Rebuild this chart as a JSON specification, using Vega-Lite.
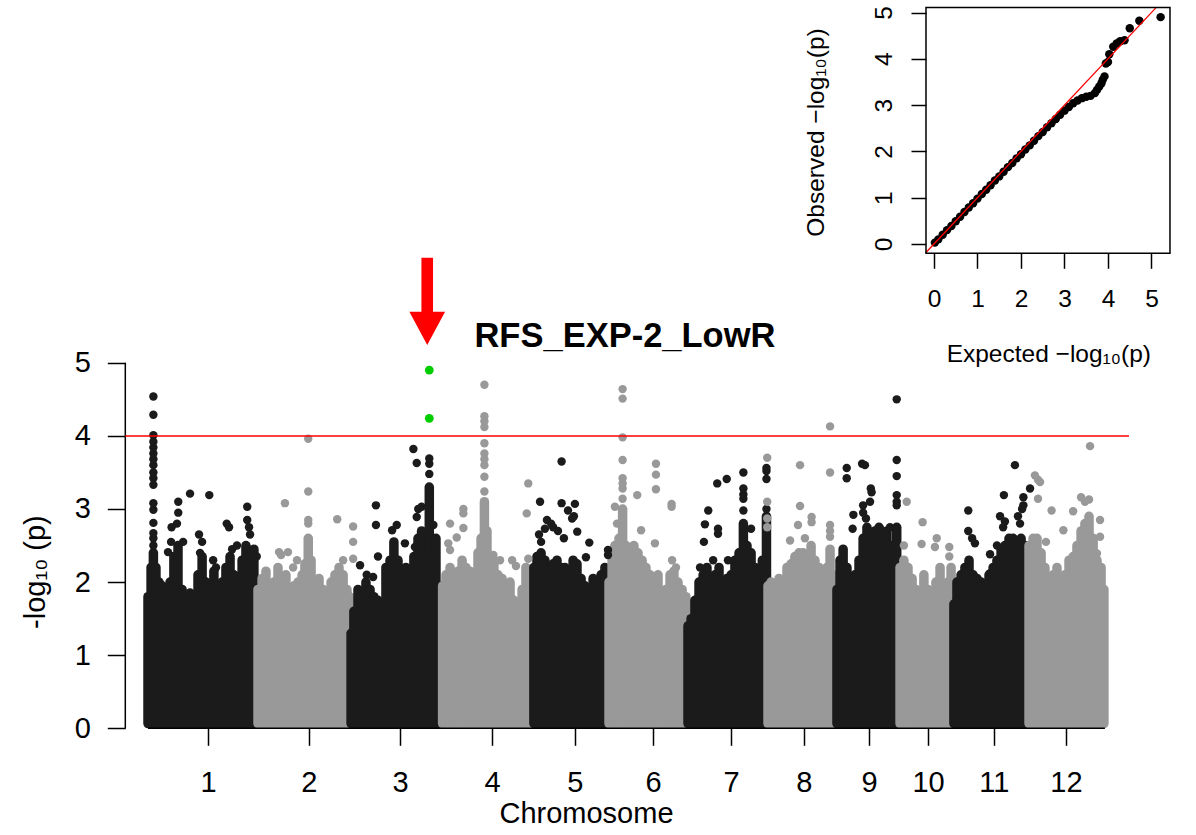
{
"$schema": "https://vega.github.io/schema/vega-lite/v6.json",
"usermeta": {"embedOptions": {"actions": false}},
"width": 1196, "height": 835, "autosize": {"type": "none"}, "padding": 0,
"config": {"view": {"stroke": null}, "font": "Liberation Sans, Arial, DejaVu Sans, sans-serif",
 "axis": {"grid": false, "domain": false, "labelColor": "#000", "titleColor": "#000", "tickColor": "#000", "tickWidth": 1.5, "labelFlush": false, "labelOverlap": false, "labelBound": false, "titleFontWeight": "normal", "labelFont": "Liberation Sans, Arial, DejaVu Sans, sans-serif", "titleFont": "Liberation Sans, Arial, DejaVu Sans, sans-serif"}},
"datasets": {
"cols": [
{"chr":1,"pos":0.0,"logp":1.8},{"chr":1,"pos":1.2,"logp":2.2},{"chr":1,"pos":2.1,"logp":2.4},{"chr":1,"pos":3.1,"logp":2.2},{"chr":1,"pos":4.3,"logp":2.0},{"chr":1,"pos":5.5,"logp":1.95},{"chr":1,"pos":7.0,"logp":1.9},{"chr":1,"pos":8.6,"logp":2.0},{"chr":1,"pos":10.1,"logp":2.35},{"chr":1,"pos":11.7,"logp":2.5},{"chr":1,"pos":13.3,"logp":1.9},{"chr":1,"pos":14.8,"logp":1.75},{"chr":1,"pos":16.4,"logp":1.85},{"chr":1,"pos":17.9,"logp":1.8},{"chr":1,"pos":19.5,"logp":2.1},{"chr":1,"pos":21.1,"logp":2.35},{"chr":1,"pos":22.6,"logp":2.0},{"chr":1,"pos":24.2,"logp":1.95},{"chr":1,"pos":25.7,"logp":2.15},{"chr":1,"pos":27.3,"logp":1.9},{"chr":1,"pos":28.9,"logp":2.0},{"chr":1,"pos":30.4,"logp":2.2},{"chr":1,"pos":32.0,"logp":2.35},{"chr":1,"pos":33.5,"logp":2.1},{"chr":1,"pos":35.1,"logp":2.0},{"chr":1,"pos":36.7,"logp":2.3},{"chr":1,"pos":38.2,"logp":2.5},{"chr":1,"pos":39.8,"logp":2.2},{"chr":1,"pos":41.3,"logp":2.45},{"chr":1,"pos":42.5,"logp":1.9},
{"chr":2,"pos":42.9,"logp":1.9},{"chr":2,"pos":44.5,"logp":2.05},{"chr":2,"pos":46.0,"logp":2.15},{"chr":2,"pos":47.6,"logp":1.9},{"chr":2,"pos":49.1,"logp":2.0},{"chr":2,"pos":50.7,"logp":2.2},{"chr":2,"pos":52.3,"logp":2.0},{"chr":2,"pos":53.8,"logp":2.1},{"chr":2,"pos":55.4,"logp":1.85},{"chr":2,"pos":56.9,"logp":1.95},{"chr":2,"pos":58.5,"logp":2.0},{"chr":2,"pos":60.1,"logp":2.1},{"chr":2,"pos":61.2,"logp":2.25},{"chr":2,"pos":62.5,"logp":2.6},{"chr":2,"pos":63.6,"logp":2.3},{"chr":2,"pos":65.1,"logp":2.0},{"chr":2,"pos":66.7,"logp":2.05},{"chr":2,"pos":68.3,"logp":1.9},{"chr":2,"pos":69.8,"logp":1.8},{"chr":2,"pos":71.4,"logp":2.0},{"chr":2,"pos":72.9,"logp":2.1},{"chr":2,"pos":74.5,"logp":2.2},{"chr":2,"pos":76.1,"logp":2.1},{"chr":2,"pos":77.6,"logp":1.9},{"chr":2,"pos":78.6,"logp":1.8},
{"chr":3,"pos":79.2,"logp":1.3},{"chr":3,"pos":80.3,"logp":1.6},{"chr":3,"pos":81.9,"logp":1.9},{"chr":3,"pos":83.5,"logp":1.7},{"chr":3,"pos":85.0,"logp":2.0},{"chr":3,"pos":86.6,"logp":1.9},{"chr":3,"pos":88.1,"logp":1.8},{"chr":3,"pos":89.7,"logp":1.75},{"chr":3,"pos":91.3,"logp":1.6},{"chr":3,"pos":92.8,"logp":2.2},{"chr":3,"pos":94.4,"logp":2.3},{"chr":3,"pos":95.9,"logp":2.55},{"chr":3,"pos":97.5,"logp":2.3},{"chr":3,"pos":99.1,"logp":1.9},{"chr":3,"pos":100.6,"logp":2.2},{"chr":3,"pos":102.2,"logp":2.0},{"chr":3,"pos":103.7,"logp":2.35},{"chr":3,"pos":105.3,"logp":2.6},{"chr":3,"pos":106.7,"logp":2.7},{"chr":3,"pos":108.0,"logp":2.4},{"chr":3,"pos":109.7,"logp":3.3},{"chr":3,"pos":110.8,"logp":2.4},{"chr":3,"pos":112.3,"logp":2.6},{"chr":3,"pos":113.9,"logp":1.95},{"chr":3,"pos":114.5,"logp":1.8},
{"chr":4,"pos":114.9,"logp":1.95},{"chr":4,"pos":116.2,"logp":2.1},{"chr":4,"pos":117.8,"logp":2.2},{"chr":4,"pos":119.3,"logp":2.0},{"chr":4,"pos":120.9,"logp":2.15},{"chr":4,"pos":122.5,"logp":2.3},{"chr":4,"pos":124.0,"logp":2.2},{"chr":4,"pos":125.6,"logp":2.15},{"chr":4,"pos":127.1,"logp":2.1},{"chr":4,"pos":128.7,"logp":2.4},{"chr":4,"pos":129.9,"logp":2.6},{"chr":4,"pos":131.2,"logp":3.1},{"chr":4,"pos":132.2,"logp":2.7},{"chr":4,"pos":133.4,"logp":2.3},{"chr":4,"pos":134.9,"logp":2.3},{"chr":4,"pos":136.5,"logp":2.1},{"chr":4,"pos":138.1,"logp":2.05},{"chr":4,"pos":139.6,"logp":1.9},{"chr":4,"pos":141.2,"logp":2.0},{"chr":4,"pos":142.7,"logp":1.75},{"chr":4,"pos":144.3,"logp":1.7},{"chr":4,"pos":145.9,"logp":1.9},{"chr":4,"pos":147.4,"logp":2.2},{"chr":4,"pos":149.0,"logp":2.0},{"chr":4,"pos":149.8,"logp":1.8},
{"chr":5,"pos":150.5,"logp":2.2},{"chr":5,"pos":151.7,"logp":2.35},{"chr":5,"pos":153.3,"logp":2.4},{"chr":5,"pos":154.8,"logp":2.3},{"chr":5,"pos":156.4,"logp":2.1},{"chr":5,"pos":158.0,"logp":2.25},{"chr":5,"pos":159.5,"logp":2.3},{"chr":5,"pos":161.1,"logp":2.2},{"chr":5,"pos":162.6,"logp":2.2},{"chr":5,"pos":164.2,"logp":2.1},{"chr":5,"pos":165.8,"logp":2.3},{"chr":5,"pos":167.3,"logp":2.25},{"chr":5,"pos":168.9,"logp":2.05},{"chr":5,"pos":170.4,"logp":1.95},{"chr":5,"pos":172.0,"logp":1.9},{"chr":5,"pos":173.6,"logp":2.05},{"chr":5,"pos":175.1,"logp":1.95},{"chr":5,"pos":176.7,"logp":2.1},{"chr":5,"pos":178.2,"logp":2.2},{"chr":5,"pos":179.2,"logp":1.9},
{"chr":6,"pos":179.8,"logp":2.0},{"chr":6,"pos":181.0,"logp":2.3},{"chr":6,"pos":182.1,"logp":2.5},{"chr":6,"pos":183.7,"logp":2.6},{"chr":6,"pos":185.1,"logp":3.0},{"chr":6,"pos":186.4,"logp":2.5},{"chr":6,"pos":188.0,"logp":2.4},{"chr":6,"pos":189.5,"logp":2.5},{"chr":6,"pos":191.1,"logp":2.4},{"chr":6,"pos":192.7,"logp":2.3},{"chr":6,"pos":194.2,"logp":2.2},{"chr":6,"pos":195.8,"logp":2.1},{"chr":6,"pos":197.3,"logp":2.0},{"chr":6,"pos":198.9,"logp":2.1},{"chr":6,"pos":200.5,"logp":1.85},{"chr":6,"pos":202.0,"logp":1.9},{"chr":6,"pos":203.6,"logp":2.1},{"chr":6,"pos":205.1,"logp":2.15},{"chr":6,"pos":206.7,"logp":2.0},{"chr":6,"pos":208.3,"logp":1.9},{"chr":6,"pos":209.8,"logp":1.8},
{"chr":7,"pos":210.6,"logp":1.4},{"chr":7,"pos":211.8,"logp":1.5},{"chr":7,"pos":213.3,"logp":1.75},{"chr":7,"pos":214.9,"logp":2.0},{"chr":7,"pos":216.5,"logp":2.1},{"chr":7,"pos":218.0,"logp":2.2},{"chr":7,"pos":219.6,"logp":2.0},{"chr":7,"pos":221.1,"logp":2.1},{"chr":7,"pos":222.7,"logp":2.2},{"chr":7,"pos":224.3,"logp":2.0},{"chr":7,"pos":225.8,"logp":2.05},{"chr":7,"pos":227.4,"logp":2.1},{"chr":7,"pos":228.9,"logp":2.3},{"chr":7,"pos":230.5,"logp":2.4},{"chr":7,"pos":232.2,"logp":2.8},{"chr":7,"pos":233.6,"logp":2.5},{"chr":7,"pos":235.2,"logp":2.4},{"chr":7,"pos":236.7,"logp":2.2},{"chr":7,"pos":238.3,"logp":2.1},{"chr":7,"pos":239.6,"logp":2.3},{"chr":7,"pos":241.2,"logp":2.9},
{"chr":8,"pos":241.8,"logp":1.95},{"chr":8,"pos":243.0,"logp":2.0},{"chr":8,"pos":244.5,"logp":1.9},{"chr":8,"pos":246.1,"logp":2.05},{"chr":8,"pos":247.7,"logp":1.95},{"chr":8,"pos":249.2,"logp":2.2},{"chr":8,"pos":250.8,"logp":2.25},{"chr":8,"pos":252.3,"logp":2.35},{"chr":8,"pos":253.9,"logp":2.4},{"chr":8,"pos":255.5,"logp":2.4},{"chr":8,"pos":257.0,"logp":2.3},{"chr":8,"pos":258.6,"logp":2.5},{"chr":8,"pos":260.1,"logp":2.3},{"chr":8,"pos":261.7,"logp":2.2},{"chr":8,"pos":263.3,"logp":2.1},{"chr":8,"pos":264.8,"logp":2.2},{"chr":8,"pos":266.0,"logp":2.45},{"chr":8,"pos":267.2,"logp":2.1},{"chr":8,"pos":267.9,"logp":1.9},
{"chr":9,"pos":268.7,"logp":1.9},{"chr":9,"pos":269.9,"logp":2.3},{"chr":9,"pos":271.1,"logp":2.45},{"chr":9,"pos":272.6,"logp":2.2},{"chr":9,"pos":274.2,"logp":2.0},{"chr":9,"pos":275.7,"logp":2.1},{"chr":9,"pos":277.3,"logp":2.3},{"chr":9,"pos":278.9,"logp":2.6},{"chr":9,"pos":280.4,"logp":2.75},{"chr":9,"pos":282.0,"logp":2.6},{"chr":9,"pos":283.5,"logp":2.7},{"chr":9,"pos":285.1,"logp":2.75},{"chr":9,"pos":286.7,"logp":2.6},{"chr":9,"pos":288.2,"logp":2.7},{"chr":9,"pos":289.4,"logp":2.5},{"chr":9,"pos":290.6,"logp":2.3},{"chr":9,"pos":292.0,"logp":2.75},
{"chr":10,"pos":293.3,"logp":2.2},{"chr":10,"pos":294.8,"logp":2.3},{"chr":10,"pos":296.4,"logp":2.2},{"chr":10,"pos":298.0,"logp":2.05},{"chr":10,"pos":299.5,"logp":1.9},{"chr":10,"pos":301.1,"logp":1.75},{"chr":10,"pos":302.6,"logp":2.1},{"chr":10,"pos":304.2,"logp":1.9},{"chr":10,"pos":305.8,"logp":1.85},{"chr":10,"pos":307.3,"logp":2.0},{"chr":10,"pos":308.9,"logp":2.2},{"chr":10,"pos":310.4,"logp":1.85},{"chr":10,"pos":312.0,"logp":2.0},{"chr":10,"pos":313.2,"logp":2.2},
{"chr":11,"pos":314.3,"logp":1.7},{"chr":11,"pos":315.5,"logp":2.0},{"chr":11,"pos":317.1,"logp":2.1},{"chr":11,"pos":318.6,"logp":2.2},{"chr":11,"pos":320.2,"logp":2.3},{"chr":11,"pos":321.8,"logp":2.1},{"chr":11,"pos":323.3,"logp":2.05},{"chr":11,"pos":324.9,"logp":2.0},{"chr":11,"pos":326.4,"logp":1.95},{"chr":11,"pos":328.0,"logp":2.1},{"chr":11,"pos":329.6,"logp":2.2},{"chr":11,"pos":331.1,"logp":2.3},{"chr":11,"pos":332.7,"logp":2.45},{"chr":11,"pos":334.2,"logp":2.5},{"chr":11,"pos":335.8,"logp":2.6},{"chr":11,"pos":337.4,"logp":2.6},{"chr":11,"pos":338.9,"logp":2.45},{"chr":11,"pos":340.5,"logp":2.6},{"chr":11,"pos":342.0,"logp":2.5},{"chr":11,"pos":342.8,"logp":2.3},
{"chr":12,"pos":343.6,"logp":2.5},{"chr":12,"pos":345.2,"logp":2.6},{"chr":12,"pos":346.7,"logp":2.6},{"chr":12,"pos":348.3,"logp":2.4},{"chr":12,"pos":349.8,"logp":2.2},{"chr":12,"pos":351.4,"logp":2.0},{"chr":12,"pos":353.0,"logp":2.1},{"chr":12,"pos":354.5,"logp":2.2},{"chr":12,"pos":356.1,"logp":2.0},{"chr":12,"pos":357.6,"logp":2.1},{"chr":12,"pos":359.2,"logp":2.3},{"chr":12,"pos":360.8,"logp":2.35},{"chr":12,"pos":362.3,"logp":2.5},{"chr":12,"pos":363.9,"logp":2.7},{"chr":12,"pos":365.4,"logp":2.8},{"chr":12,"pos":367.0,"logp":2.9},{"chr":12,"pos":368.6,"logp":2.6},{"chr":12,"pos":370.1,"logp":2.3},{"chr":12,"pos":371.7,"logp":2.2},{"chr":12,"pos":372.8,"logp":1.9}
],
"pts": [
{"chr":1,"pos":2.1,"logp":2.5},{"chr":1,"pos":2.1,"logp":2.6},{"chr":1,"pos":2.1,"logp":2.67},{"chr":1,"pos":2.1,"logp":2.81},{"chr":1,"pos":2.1,"logp":2.99},{"chr":1,"pos":2.1,"logp":3.08},{"chr":1,"pos":2.1,"logp":3.33},{"chr":1,"pos":2.1,"logp":3.42},{"chr":1,"pos":2.1,"logp":3.5},{"chr":1,"pos":2.1,"logp":3.6},{"chr":1,"pos":2.1,"logp":3.68},{"chr":1,"pos":2.1,"logp":3.76},{"chr":1,"pos":2.1,"logp":3.84},{"chr":1,"pos":2.1,"logp":3.92},{"chr":1,"pos":2.1,"logp":4.01},{"chr":1,"pos":2.1,"logp":4.29},{"chr":1,"pos":2.1,"logp":4.54},
{"chr":1,"pos":7.8,"logp":2.41},{"chr":1,"pos":9.0,"logp":2.55},{"chr":1,"pos":9.2,"logp":2.75},{"chr":1,"pos":11.3,"logp":2.8},{"chr":1,"pos":11.8,"logp":2.95},{"chr":1,"pos":11.8,"logp":3.1},{"chr":1,"pos":13.7,"logp":2.55},{"chr":1,"pos":16.4,"logp":3.21},{"chr":1,"pos":19.9,"logp":2.65},{"chr":1,"pos":21.1,"logp":2.55},{"chr":1,"pos":20.3,"logp":2.4},{"chr":1,"pos":23.9,"logp":3.19},{"chr":1,"pos":25.4,"logp":2.3},{"chr":1,"pos":26.5,"logp":2.2},{"chr":1,"pos":30.7,"logp":2.8},{"chr":1,"pos":31.6,"logp":2.75},{"chr":1,"pos":32.8,"logp":2.45},{"chr":1,"pos":34.7,"logp":2.5},{"chr":1,"pos":38.7,"logp":3.03},{"chr":1,"pos":38.7,"logp":2.85},{"chr":1,"pos":39.4,"logp":2.75},{"chr":1,"pos":39.8,"logp":2.65},{"chr":1,"pos":42.4,"logp":2.35},
{"chr":2,"pos":62.5,"logp":3.96},{"chr":2,"pos":62.5,"logp":3.24},{"chr":2,"pos":62.5,"logp":2.85},{"chr":2,"pos":62.5,"logp":2.8},{"chr":2,"pos":53.4,"logp":3.08},{"chr":2,"pos":51.1,"logp":2.41},{"chr":2,"pos":54.6,"logp":2.41},{"chr":2,"pos":51.9,"logp":2.37},{"chr":2,"pos":73.8,"logp":2.86},{"chr":2,"pos":80.0,"logp":2.76},{"chr":2,"pos":80.0,"logp":2.55},{"chr":2,"pos":80.0,"logp":2.32},{"chr":2,"pos":76.1,"logp":2.3},{"chr":2,"pos":58.1,"logp":2.3},{"chr":2,"pos":56.6,"logp":2.2},
{"chr":3,"pos":88.9,"logp":3.05},{"chr":3,"pos":88.9,"logp":2.78},{"chr":3,"pos":89.7,"logp":2.35},{"chr":3,"pos":97.0,"logp":2.78},{"chr":3,"pos":95.2,"logp":2.71},{"chr":3,"pos":100.2,"logp":2.53},{"chr":3,"pos":103.5,"logp":3.82},{"chr":3,"pos":104.8,"logp":3.63},{"chr":3,"pos":104.8,"logp":2.89},{"chr":3,"pos":105.4,"logp":3.0},{"chr":3,"pos":104.1,"logp":2.48},{"chr":3,"pos":106.7,"logp":3.03},{"chr":3,"pos":109.7,"logp":3.48},{"chr":3,"pos":109.7,"logp":3.62},{"chr":3,"pos":109.7,"logp":3.69},{"chr":3,"pos":111.3,"logp":2.78},{"chr":3,"pos":82.7,"logp":2.23},{"chr":3,"pos":85.3,"logp":2.1},{"chr":3,"pos":87.8,"logp":2.07},
{"chr":4,"pos":131.2,"logp":3.24},{"chr":4,"pos":131.2,"logp":3.44},{"chr":4,"pos":131.2,"logp":3.6},{"chr":4,"pos":131.2,"logp":3.68},{"chr":4,"pos":131.2,"logp":3.76},{"chr":4,"pos":131.2,"logp":3.9},{"chr":4,"pos":131.2,"logp":4.12},{"chr":4,"pos":131.2,"logp":4.2},{"chr":4,"pos":131.2,"logp":4.27},{"chr":4,"pos":131.2,"logp":4.7},{"chr":4,"pos":148.3,"logp":3.35},{"chr":4,"pos":148.3,"logp":2.32},{"chr":4,"pos":147.7,"logp":2.94},{"chr":4,"pos":123.0,"logp":3.0},{"chr":4,"pos":123.0,"logp":2.94},{"chr":4,"pos":123.0,"logp":2.74},{"chr":4,"pos":117.8,"logp":2.8},{"chr":4,"pos":117.1,"logp":2.53},{"chr":4,"pos":117.8,"logp":2.44},{"chr":4,"pos":120.4,"logp":2.61},{"chr":4,"pos":134.7,"logp":2.37},{"chr":4,"pos":137.3,"logp":2.3},{"chr":4,"pos":142.0,"logp":2.3},{"chr":4,"pos":143.5,"logp":2.22},
{"chr":5,"pos":161.3,"logp":3.65},{"chr":5,"pos":161.3,"logp":3.08},{"chr":5,"pos":152.9,"logp":3.1},{"chr":5,"pos":166.5,"logp":3.07},{"chr":5,"pos":163.8,"logp":2.98},{"chr":5,"pos":166.1,"logp":2.9},{"chr":5,"pos":165.4,"logp":2.87},{"chr":5,"pos":155.6,"logp":2.85},{"chr":5,"pos":157.2,"logp":2.8},{"chr":5,"pos":158.0,"logp":2.75},{"chr":5,"pos":154.8,"logp":2.73},{"chr":5,"pos":159.9,"logp":2.7},{"chr":5,"pos":162.2,"logp":2.6},{"chr":5,"pos":167.4,"logp":2.69},{"chr":5,"pos":172.1,"logp":2.54},{"chr":5,"pos":170.8,"logp":2.34},{"chr":5,"pos":179.4,"logp":2.44},{"chr":5,"pos":179.4,"logp":2.37},{"chr":5,"pos":152.5,"logp":2.65},{"chr":5,"pos":153.3,"logp":2.55},
{"chr":6,"pos":185.1,"logp":3.14},{"chr":6,"pos":185.1,"logp":3.28},{"chr":6,"pos":185.1,"logp":3.35},{"chr":6,"pos":185.1,"logp":3.42},{"chr":6,"pos":185.1,"logp":3.67},{"chr":6,"pos":185.1,"logp":3.98},{"chr":6,"pos":185.1,"logp":4.51},{"chr":6,"pos":185.1,"logp":4.64},{"chr":6,"pos":190.8,"logp":3.19},{"chr":6,"pos":198.1,"logp":3.62},{"chr":6,"pos":198.1,"logp":3.47},{"chr":6,"pos":198.1,"logp":3.27},{"chr":6,"pos":204.2,"logp":3.07},{"chr":6,"pos":204.2,"logp":3.03},{"chr":6,"pos":192.3,"logp":2.71},{"chr":6,"pos":197.7,"logp":2.53},{"chr":6,"pos":182.1,"logp":3.03},{"chr":6,"pos":182.9,"logp":2.8},{"chr":6,"pos":204.4,"logp":2.3},{"chr":6,"pos":205.9,"logp":2.2},
{"chr":7,"pos":218.5,"logp":2.98},{"chr":7,"pos":217.2,"logp":2.79},{"chr":7,"pos":216.8,"logp":2.55},{"chr":7,"pos":222.0,"logp":3.35},{"chr":7,"pos":225.7,"logp":3.41},{"chr":7,"pos":222.3,"logp":2.73},{"chr":7,"pos":222.3,"logp":2.66},{"chr":7,"pos":232.2,"logp":3.5},{"chr":7,"pos":232.2,"logp":3.28},{"chr":7,"pos":232.2,"logp":3.2},{"chr":7,"pos":232.2,"logp":3.14},{"chr":7,"pos":232.2,"logp":2.98},{"chr":7,"pos":235.2,"logp":2.73},{"chr":7,"pos":241.2,"logp":3.41},{"chr":7,"pos":241.2,"logp":3.52},{"chr":7,"pos":241.2,"logp":3.56},{"chr":7,"pos":241.2,"logp":3.0},{"chr":7,"pos":215.3,"logp":2.2},{"chr":7,"pos":220.4,"logp":2.3},{"chr":7,"pos":226.2,"logp":2.3},
{"chr":8,"pos":241.5,"logp":3.7},{"chr":8,"pos":241.5,"logp":3.1},{"chr":8,"pos":241.5,"logp":2.87},{"chr":8,"pos":241.5,"logp":2.75},{"chr":8,"pos":254.3,"logp":3.6},{"chr":8,"pos":254.3,"logp":3.04},{"chr":8,"pos":258.8,"logp":2.89},{"chr":8,"pos":258.8,"logp":2.82},{"chr":8,"pos":266.0,"logp":4.13},{"chr":8,"pos":266.0,"logp":3.5},{"chr":8,"pos":266.0,"logp":2.78},{"chr":8,"pos":266.0,"logp":2.7},{"chr":8,"pos":266.0,"logp":2.62},{"chr":8,"pos":253.5,"logp":2.78},{"chr":8,"pos":250.4,"logp":2.57},{"chr":8,"pos":256.2,"logp":2.6},
{"chr":9,"pos":292.0,"logp":4.5},{"chr":9,"pos":292.0,"logp":3.67},{"chr":9,"pos":292.0,"logp":3.45},{"chr":9,"pos":292.0,"logp":3.19},{"chr":9,"pos":292.0,"logp":3.1},{"chr":9,"pos":292.0,"logp":3.05},{"chr":9,"pos":272.5,"logp":3.56},{"chr":9,"pos":272.5,"logp":3.42},{"chr":9,"pos":278.5,"logp":3.62},{"chr":9,"pos":279.6,"logp":3.6},{"chr":9,"pos":281.9,"logp":3.28},{"chr":9,"pos":282.2,"logp":3.23},{"chr":9,"pos":281.6,"logp":3.1},{"chr":9,"pos":275.1,"logp":2.92},{"chr":9,"pos":274.8,"logp":2.73},{"chr":9,"pos":278.9,"logp":3.05},{"chr":9,"pos":278.9,"logp":2.95},{"chr":9,"pos":280.0,"logp":2.87},{"chr":9,"pos":289.4,"logp":2.75},{"chr":9,"pos":285.5,"logp":2.73},
{"chr":10,"pos":295.9,"logp":3.1},{"chr":10,"pos":302.1,"logp":2.82},{"chr":10,"pos":301.7,"logp":2.52},{"chr":10,"pos":307.6,"logp":2.6},{"chr":10,"pos":306.9,"logp":2.48},{"chr":10,"pos":312.5,"logp":2.48},{"chr":10,"pos":312.5,"logp":2.35},{"chr":10,"pos":294.8,"logp":2.5},
{"chr":11,"pos":319.9,"logp":2.98},{"chr":11,"pos":319.9,"logp":2.7},{"chr":11,"pos":321.4,"logp":2.6},{"chr":11,"pos":322.5,"logp":2.53},{"chr":11,"pos":338.1,"logp":3.6},{"chr":11,"pos":333.8,"logp":3.19},{"chr":11,"pos":341.4,"logp":3.16},{"chr":11,"pos":341.4,"logp":3.05},{"chr":11,"pos":340.9,"logp":3.0},{"chr":11,"pos":344.0,"logp":3.28},{"chr":11,"pos":339.3,"logp":2.9},{"chr":11,"pos":340.1,"logp":2.8},{"chr":11,"pos":332.3,"logp":2.9},{"chr":11,"pos":334.2,"logp":2.83},{"chr":11,"pos":333.5,"logp":2.75},{"chr":11,"pos":328.4,"logp":2.38},{"chr":11,"pos":328.4,"logp":2.12},{"chr":11,"pos":331.1,"logp":2.5},
{"chr":12,"pos":367.4,"logp":3.86},{"chr":12,"pos":345.9,"logp":3.46},{"chr":12,"pos":347.1,"logp":3.4},{"chr":12,"pos":347.9,"logp":3.37},{"chr":12,"pos":347.1,"logp":3.14},{"chr":12,"pos":363.9,"logp":3.16},{"chr":12,"pos":365.4,"logp":3.1},{"chr":12,"pos":367.0,"logp":3.13},{"chr":12,"pos":360.8,"logp":2.97},{"chr":12,"pos":352.4,"logp":2.98},{"chr":12,"pos":357.0,"logp":2.71},{"chr":12,"pos":371.3,"logp":2.85},{"chr":12,"pos":371.3,"logp":2.62},{"chr":12,"pos":370.1,"logp":2.39},{"chr":12,"pos":350.2,"logp":2.55}
],
"green": [{"chr":3,"pos":109.7,"logp":4.9},{"chr":3,"pos":109.7,"logp":4.24}],
"qq": [
{"expected":0.02,"observed":0.03},{"expected":0.1,"observed":0.1},{"expected":0.2,"observed":0.2},{"expected":0.3,"observed":0.3},{"expected":0.4,"observed":0.39},{"expected":0.5,"observed":0.49},{"expected":0.6,"observed":0.59},{"expected":0.7,"observed":0.69},{"expected":0.8,"observed":0.79},{"expected":0.9,"observed":0.88},{"expected":1.0,"observed":0.98},{"expected":1.1,"observed":1.08},{"expected":1.2,"observed":1.17},{"expected":1.3,"observed":1.27},{"expected":1.4,"observed":1.37},{"expected":1.5,"observed":1.46},{"expected":1.6,"observed":1.56},{"expected":1.7,"observed":1.66},{"expected":1.8,"observed":1.75},{"expected":1.9,"observed":1.85},{"expected":2.0,"observed":1.94},{"expected":2.1,"observed":2.04},{"expected":2.2,"observed":2.13},{"expected":2.3,"observed":2.23},{"expected":2.4,"observed":2.33},{"expected":2.5,"observed":2.42},{"expected":2.6,"observed":2.52},{"expected":2.7,"observed":2.61},{"expected":2.8,"observed":2.7},{"expected":2.9,"observed":2.79},{"expected":3.0,"observed":2.88},{"expected":3.1,"observed":2.96},{"expected":3.2,"observed":3.04},{"expected":3.3,"observed":3.1},{"expected":3.4,"observed":3.15},{"expected":3.5,"observed":3.18},{"expected":3.6,"observed":3.2},{"expected":3.7,"observed":3.26},{"expected":3.75,"observed":3.33},{"expected":3.8,"observed":3.4},{"expected":3.85,"observed":3.47},{"expected":3.88,"observed":3.55},{"expected":3.92,"observed":3.62},{"expected":3.95,"observed":3.9},{"expected":4.0,"observed":3.93},{"expected":4.03,"observed":4.1},{"expected":4.12,"observed":4.26},{"expected":4.2,"observed":4.33},{"expected":4.28,"observed":4.38},{"expected":4.38,"observed":4.4},{"expected":4.5,"observed":4.66},{"expected":4.72,"observed":4.82},{"expected":5.21,"observed":4.9}
]
},
"resolve": {"scale": {"x": "independent", "y": "independent"}, "axis": {"x": "independent", "y": "independent"}},
"layer": [
{"data": {"name": "cols"}, "mark": {"type": "rule", "strokeWidth": 9.5, "strokeCap": "round"},
 "encoding": {
  "x": {"field": "pos", "type": "quantitative", "scale": {"domain": [-57.72, 408.72], "nice": false, "zero": false},
   "axis": {"orient": "bottom", "offset": -106.7, "values": [23.4, 62.7, 98.3, 134.2, 166.5, 197, 227.4, 255.8, 281.2, 304.2, 329.9, 358], "labelExpr": "indexof([23.4, 62.7, 98.3, 134.2, 166.5, 197, 227.4, 255.8, 281.2, 304.2, 329.9, 358], datum.value) + 1", "tickSize": 17, "labelFontSize": 29, "labelPadding": 45.7, "labelBaseline": "alphabetic", "labelAlign": "center", "title": "Chromosome", "titleFontSize": 29, "titleX": 586, "titleY": 94.3, "titleBaseline": "alphabetic", "titleAlign": "center", "titleAngle": 0}},
  "y": {"field": "logp", "type": "quantitative", "scale": {"domain": [-1.4597, 9.963], "nice": false, "zero": false},
   "axis": {"orient": "left", "offset": -125.3, "values": [0, 1, 2, 3, 4, 5], "format": "d", "tickSize": 18, "labelFontSize": 29, "labelPadding": 17, "labelAlign": "right", "labelBaseline": "middle", "title": "-log₁₀ (p)", "titleFontSize": 29, "titleX": -81.3, "titleY": 571.6, "titleAngle": 270, "titleBaseline": "alphabetic", "titleAlign": "center"}},
  "y2": {"datum": 0.065},
  "color": {"field": "chr", "type": "nominal", "scale": {"domain": [1,2,3,4,5,6,7,8,9,10,11,12], "range": ["#1b1b1b","#999999","#1b1b1b","#999999","#1b1b1b","#999999","#1b1b1b","#999999","#1b1b1b","#999999","#1b1b1b","#999999"]}, "legend": null}
 }},
{"data": {"name": "pts"}, "mark": {"type": "circle", "size": 71, "opacity": 1},
 "encoding": {
  "x": {"field": "pos", "type": "quantitative", "scale": {"domain": [-57.72, 408.72], "nice": false, "zero": false}, "axis": null},
  "y": {"field": "logp", "type": "quantitative", "scale": {"domain": [-1.4597, 9.963], "nice": false, "zero": false}, "axis": null},
  "color": {"field": "chr", "type": "nominal", "scale": {"domain": [1,2,3,4,5,6,7,8,9,10,11,12], "range": ["#1b1b1b","#999999","#1b1b1b","#999999","#1b1b1b","#999999","#1b1b1b","#999999","#1b1b1b","#999999","#1b1b1b","#999999"]}, "legend": null}
 }},
{"data": {"values": [{}]}, "mark": {"type": "rule", "strokeWidth": 1.5, "color": "#000"},
 "encoding": {
  "x": {"datum": 0, "type": "quantitative", "scale": {"domain": [-57.72, 408.72], "nice": false, "zero": false}, "axis": null},
  "x2": {"datum": 373.2},
  "y": {"datum": 0, "type": "quantitative", "scale": {"domain": [-1.4597, 9.963], "nice": false, "zero": false}, "axis": null}
 }},
{"data": {"values": [{}]}, "mark": {"type": "rule", "strokeWidth": 1.5, "color": "#000"},
 "encoding": {
  "x": {"datum": -8.85, "type": "quantitative", "scale": {"domain": [-57.72, 408.72], "nice": false, "zero": false}, "axis": null},
  "y": {"datum": 0, "type": "quantitative", "scale": {"domain": [-1.4597, 9.963], "nice": false, "zero": false}, "axis": null},
  "y2": {"datum": 5}
 }},
{"data": {"values": [{}]}, "mark": {"type": "rule", "strokeWidth": 1.5, "color": "#ff0000"},
 "encoding": {
  "x": {"datum": -8.85, "type": "quantitative", "scale": {"domain": [-57.72, 408.72], "nice": false, "zero": false}, "axis": null},
  "x2": {"datum": 382.6},
  "y": {"datum": 4, "type": "quantitative", "scale": {"domain": [-1.4597, 9.963], "nice": false, "zero": false}, "axis": null}
 }},
{"data": {"name": "green"}, "mark": {"type": "circle", "size": 78, "opacity": 1, "color": "#00cd00"},
 "encoding": {
  "x": {"field": "pos", "type": "quantitative", "scale": {"domain": [-57.72, 408.72], "nice": false, "zero": false}, "axis": null},
  "y": {"field": "logp", "type": "quantitative", "scale": {"domain": [-1.4597, 9.963], "nice": false, "zero": false}, "axis": null}
 }},
{"data": {"values": [{}]}, "mark": {"type": "point", "filled": true, "opacity": 1, "color": "#ff0000", "strokeWidth": 0, "size": 7621, "shape": "M-0.133,-1L0.133,-1L0.133,0.237L0.409,0.237L0,1L-0.409,0.237L-0.133,0.237Z"},
 "encoding": {
  "x": {"datum": 108.9, "type": "quantitative", "scale": {"domain": [-57.72, 408.72], "nice": false, "zero": false}, "axis": null},
  "y": {"datum": 5.841, "type": "quantitative", "scale": {"domain": [-1.4597, 9.963], "nice": false, "zero": false}, "axis": null}
 }},
{"data": {"values": [{}]}, "mark": {"type": "text", "text": "RFS_EXP-2_LowR", "fontSize": 34.5, "fontWeight": "bold", "align": "center", "baseline": "alphabetic", "color": "#000"},
 "encoding": {
  "x": {"datum": 186.0, "type": "quantitative", "scale": {"domain": [-57.72, 408.72], "nice": false, "zero": false}, "axis": null},
  "y": {"datum": 5.216, "type": "quantitative", "scale": {"domain": [-1.4597, 9.963], "nice": false, "zero": false}, "axis": null}
 }},
{"data": {"name": "qq"}, "mark": {"type": "circle", "size": 71, "opacity": 1, "color": "#000"},
 "encoding": {
  "x": {"field": "expected", "type": "quantitative", "scale": {"domain": [-21.471, 6.023], "nice": false, "zero": false},
   "axis": {"orient": "bottom", "offset": -581.7, "values": [0, 1, 2, 3, 4, 5], "format": "d", "tickSize": 15, "labelFontSize": 24.5, "labelPadding": 38.4, "labelBaseline": "alphabetic", "labelAlign": "center", "title": "Expected  −log₁₀(p)", "titleFontSize": 24.5, "titleX": 1048.3, "titleY": 108.4, "titleBaseline": "alphabetic", "titleAlign": "center", "titleAngle": 0}},
  "y": {"field": "observed", "type": "quantitative", "scale": {"domain": [-12.765, 5.270], "nice": false, "zero": false},
   "axis": {"orient": "left", "offset": -926, "values": [0, 1, 2, 3, 4, 5], "format": "d", "tickSize": 15, "labelFontSize": 24.5, "labelPadding": 20, "labelAngle": -90, "labelAlign": "center", "labelBaseline": "alphabetic", "title": "Observed  −log₁₀(p)", "titleFontSize": 24.5, "titleX": -102.2, "titleY": 132, "titleAngle": 270, "titleBaseline": "alphabetic", "titleAlign": "center"}}
 }},
{"data": {"values": [{}]}, "mark": {"type": "rule", "strokeWidth": 1.3, "color": "#ff0000"},
 "encoding": {
  "x": {"datum": -0.19, "type": "quantitative", "scale": {"domain": [-21.471, 6.023], "nice": false, "zero": false}, "axis": null},
  "x2": {"datum": 5.11},
  "y": {"datum": -0.19, "type": "quantitative", "scale": {"domain": [-12.765, 5.270], "nice": false, "zero": false}, "axis": null},
  "y2": {"datum": 5.11}
 }},
{"data": {"values": [{}]}, "mark": {"type": "rect", "filled": false, "color": "#000", "strokeWidth": 1.5},
 "encoding": {
  "x": {"datum": -0.184, "type": "quantitative", "scale": {"domain": [-21.471, 6.023], "nice": false, "zero": false}, "axis": null},
  "x2": {"datum": 5.425},
  "y": {"datum": -0.2, "type": "quantitative", "scale": {"domain": [-12.765, 5.270], "nice": false, "zero": false}, "axis": null},
  "y2": {"datum": 5.11}
 }}
]
}
